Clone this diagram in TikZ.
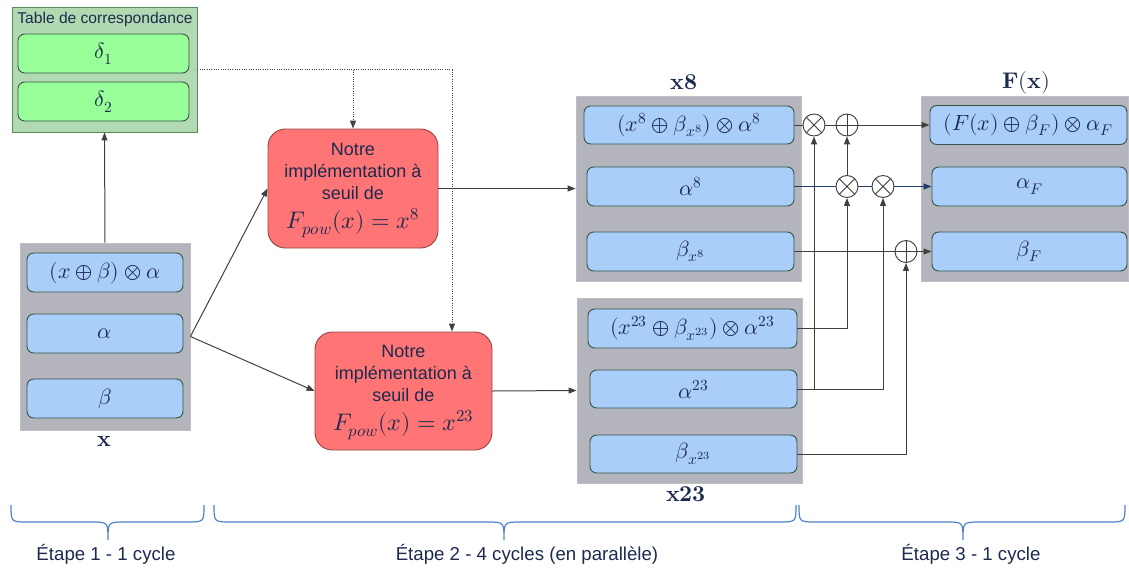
\documentclass[tikz,border=0pt]{standalone}
\usepackage{fontspec}
\usepackage{unicode-math}
\setmainfont{Liberation Sans}
\setmathfont{Latin Modern Math}
\usetikzlibrary{arrows.meta}
\definecolor{boxgray}{RGB}{180,180,189}
\definecolor{rowblue}{RGB}{170,206,250}
\definecolor{rowedge}{RGB}{52,84,70}
\definecolor{redfill}{RGB}{255,117,117}
\definecolor{rededge}{RGB}{150,70,70}
\definecolor{tabfill}{RGB}{178,218,178}
\definecolor{tabedge}{RGB}{90,140,90}
\definecolor{deltafill}{RGB}{153,255,153}
\definecolor{txt}{RGB}{28,42,78}
\definecolor{linecol}{RGB}{64,64,64}
\definecolor{bluelink}{RGB}{31,62,110}
\definecolor{bracecol}{RGB}{80,130,200}
\newcommand{\redtext}[1]{\begin{tabular}{@{}c@{}}Notre\\implémentation à\\seuil de\\[2pt]{\fontsize{18}{21}\selectfont$#1$}\end{tabular}}
\begin{document}
\begin{tikzpicture}[x=0.75pt,y=-0.75pt,
  sz/.style 2 args={minimum width=#1*0.75pt, minimum height=#2*0.75pt, inner sep=0pt},
  graybox/.style={fill=boxgray, draw=boxgray!85!white, line width=0.6pt},
  rowbox/.style={fill=rowblue, draw=rowedge, line width=0.7pt, rounded corners=5pt, text=txt, font=\fontsize{16.5}{19}\selectfont},
  deltabox/.style={fill=deltafill, draw=rowedge, line width=0.7pt, rounded corners=5pt, text=txt, font=\fontsize{16.5}{19}\selectfont},
  redbox/.style={fill=redfill, draw=rededge, line width=0.7pt, rounded corners=13pt, text=txt, font=\fontsize{13.5}{16.5}\selectfont},
  lbl/.style={text=txt, font=\fontsize{17}{19}\selectfont, inner sep=0pt},
  conn/.style={draw=linecol, line width=0.75pt},
  bconn/.style={draw=bluelink, line width=0.75pt},
  tip/.style={-{Triangle[length=6pt,width=4.5pt]}},
  opnode/.style={circle, draw=linecol, line width=0.7pt, fill=white, minimum size=16.5pt, inner sep=0pt},
  otimesn/.style={opnode, path picture={\draw[linecol, line width=0.7pt] (path picture bounding box.center) +(45:10pt) -- +(225:10pt) (path picture bounding box.center) +(135:10pt) -- +(-45:10pt);}},
  oplusn/.style={opnode, path picture={\draw[linecol, line width=0.7pt] (path picture bounding box.center) +(0:10pt) -- +(180:10pt) (path picture bounding box.center) +(90:10pt) -- +(-90:10pt);}},
  bracepath/.style={draw=bracecol, line width=0.9pt},
  steplbl/.style={text=txt, font=\fontsize{14}{16}\selectfont, inner sep=0pt}
]
\useasboundingbox (0,0) rectangle (1129,569);

% table
\node[fill=tabfill, draw=tabedge, line width=0.7pt, sz={185}{125}] (table) at (104.5,69.5) {};
\node[text=txt, font=\fontsize{11.7}{13}\selectfont, inner sep=0pt] (tabtitle) at (105,19) {Table de correspondance};
\node[deltabox, sz={171}{39}] (d1) at (103.5,53.5) {$\delta_1$};
\node[deltabox, sz={171}{39}] (d2) at (103.5,101.5) {$\delta_2$};

% x box
\node[graybox, sz={170}{187}] (xbox) at (105,336.5) {};
\node[rowbox, sz={156}{39}] (xr1) at (105,272.5) {$(x\oplus\beta)\otimes\alpha$};
\node[rowbox, sz={156}{39}] (xr2) at (105,333.5) {$\alpha$};
\node[rowbox, sz={156}{39}] (xr3) at (105,398.5) {$\beta$};
\node[lbl] (xlbl) at (104,441) {$\symbfup{x}$};

% red boxes
\node[redbox, sz={170}{119}] (red1) at (353,188.5) {\redtext{F_{pow}(x)=x^{8}}};
\node[redbox, sz={177}{118}] (red2) at (403.5,391) {\redtext{F_{pow}(x)=x^{23}}};

% x8 box
\node[graybox, sz={225}{185}] (x8box) at (688.5,188.5) {};
\node[rowbox, sz={210}{38}] (r1) at (689,125) {$(x^{8}\oplus\beta_{x^{8}})\otimes\alpha^{8}$};
\node[rowbox, sz={207}{39}] (r2) at (690.5,186.5) {$\alpha^{8}$};
\node[rowbox, sz={207}{39}] (r3) at (690.5,251.5) {$\beta_{x^{8}}$};
\node[lbl] (x8lbl) at (684,82) {$\symbfup{x8}$};

% x23 box
\node[graybox, sz={225}{185}] (x23box) at (689.5,390.5) {};
\node[rowbox, sz={209}{39}] (s1) at (692.5,328.5) {$(x^{23}\oplus\beta_{x^{23}})\otimes\alpha^{23}$};
\node[rowbox, sz={207}{38}] (s2) at (693.5,389) {$\alpha^{23}$};
\node[rowbox, sz={207}{38}] (s3) at (693.5,454) {$\beta_{x^{23}}$};
\node[lbl] (x23lbl) at (686,494) {$\symbfup{x23}$};

% F box
\node[graybox, sz={207}{185}] (fbox) at (1024.5,188.5) {};
\node[rowbox, sz={197}{39}] (f1) at (1028.5,125) {$(F(x)\oplus\beta_F)\otimes\alpha_F$};
\node[rowbox, sz={195}{39}] (f2) at (1029.5,186.5) {$\alpha_F$};
\node[rowbox, sz={195}{39}] (f3) at (1029.5,251.5) {$\beta_F$};
\node[lbl] (flbl) at (1026,83) {$\symbfup{F}(\symbfup{x})$};

% operators
\node[otimesn] (m1) at (814,125) {};
\node[oplusn] (p1) at (847,125) {};
\node[otimesn] (m2) at (847,186.5) {};
\node[otimesn] (m3) at (883,186.5) {};
\node[oplusn] (p2) at (906,251.5) {};

% connectors left part
\draw[conn,tip] (xbox.north) -- (table.south);
\draw[conn,tip] (xbox.east) -- (red1.west);
\draw[conn,tip] (xbox.east) -- (red2.west);
\coordinate (dA) at (353,69.5);
\coordinate (dB) at (452,69.5);
\draw[conn, densely dotted, tip] (table.east) -- (dB) -- (dB |- red2.north);
\draw[conn, densely dotted, tip] (dA) -- (red1.north);
\draw[conn,tip] (red1.east) -- (x8box.west);
\draw[conn,tip] (red2.east) -- (x23box.west);

% vertical feeds
\draw[conn,tip] (s2.east) -| (m1.south);
\draw[conn,tip] (s2.east) -| (m3.south);
\draw[conn,tip] (s1.east) -| (m2.south);
\draw[conn,tip] (s3.east) -| (p2.south);
\draw[conn,tip] (m2.north) -- (p1.south);

% horizontal paths
\draw[conn] (r1.east) -- (m1.west);
\draw[conn] (m1.east) -- (p1.west);
\draw[conn,tip] (p1.east) -- (f1.west);
\draw[bconn] (r2.east) -- (m2.west);
\draw[bconn] (m2.east) -- (m3.west);
\draw[bconn,tip] (m3.east) -- (f2.west);
\draw[conn] (r3.east) -- (p2.west);
\draw[conn,tip] (p2.east) -- (f3.west);

% braces
\draw[bracepath] (11,505) .. controls (11,522) .. (28,522) -- (91,522) .. controls (108,522) .. (108,540) .. controls (108,522) .. (125,522) -- (187,522) .. controls (204,522) .. (204,505);
\draw[bracepath] (214,505) .. controls (214,522) .. (231,522) -- (487,522) .. controls (504,522) .. (504,540) .. controls (504,522) .. (521,522) -- (779,522) .. controls (796,522) .. (796,505);
\draw[bracepath] (799,505) .. controls (799,522) .. (816,522) -- (946,522) .. controls (963,522) .. (963,540) .. controls (963,522) .. (980,522) -- (1108,522) .. controls (1125,522) .. (1125,505);
\node[steplbl] (st1) at (106,554) {Étape 1 - 1 cycle};
\node[steplbl] (st2) at (527,554) {Étape 2 - 4 cycles (en parallèle)};
\node[steplbl] (st3) at (971,554) {Étape 3 - 1 cycle};
\end{tikzpicture}
\end{document}
